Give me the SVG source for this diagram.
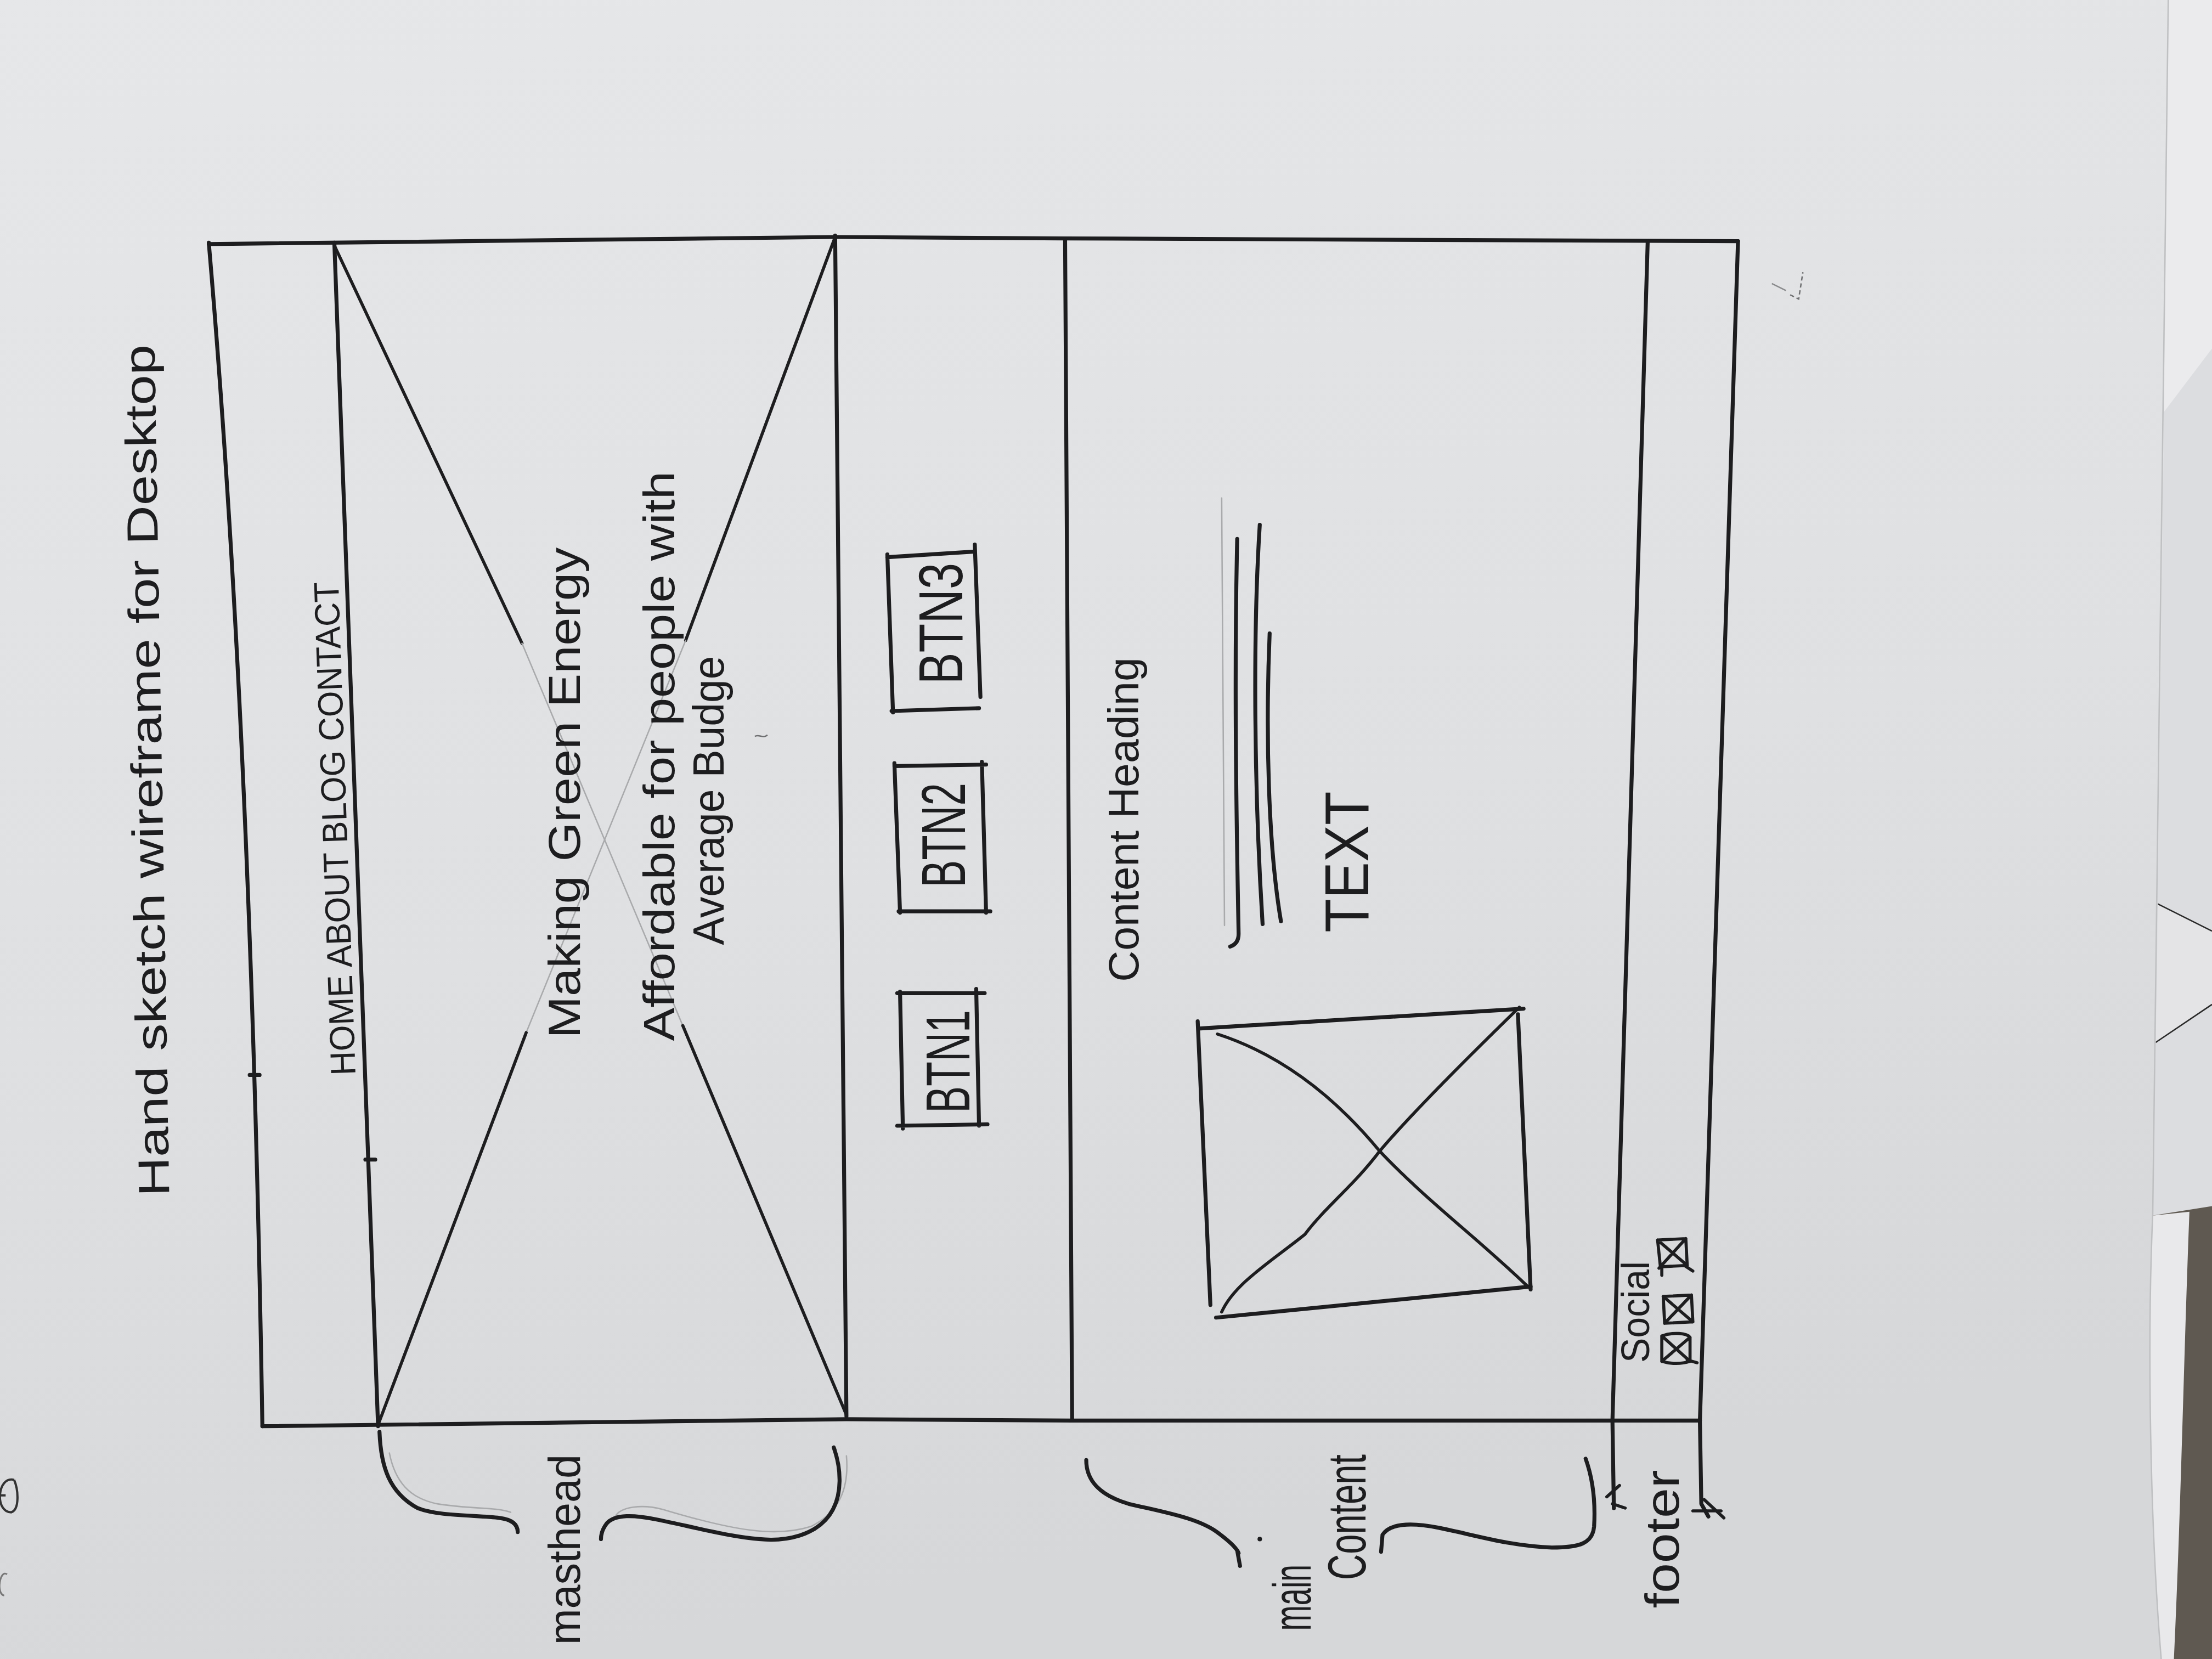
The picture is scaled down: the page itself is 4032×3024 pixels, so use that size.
<svg xmlns="http://www.w3.org/2000/svg" width="4032" height="3024" viewBox="0 0 4032 3024">
  <defs>
    <linearGradient id="paper" x1="0" y1="0" x2="0.25" y2="1">
      <stop offset="0" stop-color="#e6e7e9"/>
      <stop offset="0.6" stop-color="#dfe0e2"/>
      <stop offset="1" stop-color="#d6d7d9"/>
    </linearGradient>
    <style>
      .ink{fill:none;stroke:#1d1d1f;stroke-width:2.8;stroke-linecap:round;stroke-linejoin:round}
      .thin{stroke-width:2.2}
      .pencil{fill:none;stroke:#a9aaac;stroke-width:1;stroke-linecap:round}
      .hand{font-family:"Liberation Sans","DejaVu Sans",Arial,sans-serif;fill:#1d1d1f}
    </style>
  </defs>

  <!-- drawing is laid out on a 1568 x 1176 grid and scaled up -->
  <g transform="scale(2.571429)">

    <!-- desk and loose sheets behind the page -->
    <g id="backdrop">
      <rect x="0" y="0" width="1568" height="1176" fill="#5f5951"/>
      <path d="M1528,0 L1568,0 L1568,855 L1524,862 Z" fill="#dcdde0"/>
      <path d="M1530,0 L1568,0 L1568,247 L1534,292 Z" fill="#ebebed"/>
      <path d="M1528,640 L1568,660 L1568,712 L1528,739 Z" fill="#e4e4e6"/>
      <path d="M1528,640 L1568,660 M1528,739 L1568,712" fill="none" stroke="#2a2a2a" stroke-width="1"/>
      <path d="M1523,862 L1552,859 C1548,960 1546,1070 1541,1176 L1525,1176 Z" fill="#e9e9eb"/>
    </g>

    <!-- the sketch sheet -->
    <path id="sheet" d="M0,0 L1537,0 C1534,300 1531,600 1526,860 C1522,950 1524,1080 1532,1176 L0,1176 Z" fill="url(#paper)"/>
    <path d="M1537,0 C1534,300 1531,600 1526,860 C1522,950 1524,1080 1532,1176" fill="none" stroke="#bfc0c2" stroke-width="1"/>

    <!-- stray marks on the sheet -->
    <g id="marks">
      <path d="M10,1049 C-2,1046 -4,1072 8,1072 C14,1070 13,1056 10,1049" fill="none" stroke="#333" stroke-width="1.6"/>
      <path d="M0,1060 L4,1060" stroke="#333" stroke-width="1.6"/>
      <path d="M5,1116 C0,1112 -3,1130 3,1131" fill="none" stroke="#777" stroke-width="1.2"/>
      <path d="M1269,209 L1275,212 L1278,193" fill="none" stroke="#6f7072" stroke-width="1" stroke-dasharray="3 2"/>
      <path d="M1256,201 L1266,206" stroke="#8a8b8d" stroke-width="1"/>
      <path d="M535,522 C538,520 541,524 544,521" fill="none" stroke="#6f7072" stroke-width="1"/>
    </g>

    <!-- title -->
    <g id="title">
      <text class="hand" font-size="31" transform="translate(120,848) rotate(-91)" textLength="604" lengthAdjust="spacingAndGlyphs">Hand sketch wireframe for Desktop</text>
    </g>

    <!-- page frame -->
    <g id="frame">
      <path class="ink" d="M148,173 L592,168 L755,169 L1232,171"/>
      <path class="ink" d="M148,172 Q178,520 186,1011"/>
      <path class="ink" d="M186,1011 L600,1006 L760,1007 L1205,1007"/>
      <path class="ink" d="M1232,171 L1205,1007"/>
      <path class="ink" d="M177,762 L184,762 M259,822 L266,822"/>
    </g>

    <!-- navigation bar -->
    <g id="nav">
      <path class="ink" d="M237,172 Q250,520 268,1011"/>
      <text class="hand" font-size="25" transform="translate(252,762) rotate(-92)" textLength="350" lengthAdjust="spacingAndGlyphs">HOME ABOUT BLOG CONTACT</text>
    </g>

    <!-- masthead image placeholder -->
    <g id="masthead">
      <path class="ink" d="M592,167 L600,1004"/>
      <path class="ink thin" d="M237,174 L370,456"/>
      <path class="pencil" d="M370,456 L484,727"/>
      <path class="ink thin" d="M484,727 L600,1003"/>
      <path class="ink thin" d="M592,168 L486,454"/>
      <path class="pencil" d="M486,454 L373,732"/>
      <path class="ink thin" d="M373,732 L268,1010"/>
    </g>

    <!-- hero copy -->
    <g id="hero-text">
      <text class="hand" font-size="32" transform="translate(411,736) rotate(-90)" textLength="348" lengthAdjust="spacingAndGlyphs">Making Green Energy</text>
      <text class="hand" font-size="31" transform="translate(478,738) rotate(-90)" textLength="404" lengthAdjust="spacingAndGlyphs">Affordable for people with</text>
      <text class="hand" font-size="31" transform="translate(513,670) rotate(-90)" textLength="205" lengthAdjust="spacingAndGlyphs">Average Budge</text>
    </g>

    <!-- buttons -->
    <g id="btn1">
      <path class="ink" d="M636,704 L698,704 M638,703 L640,800 M636,798 L700,797 M692,701 L694,798"/>
      <text class="hand" font-size="44" transform="translate(687,789) rotate(-90)" textLength="73" lengthAdjust="spacingAndGlyphs">BTN1</text>
    </g>
    <g id="btn2">
      <path class="ink" d="M634,543 L699,542 M634,541 L638,647 M637,646 L702,646 M696,540 L699,647"/>
      <text class="hand" font-size="44" transform="translate(684,629) rotate(-90)" textLength="74" lengthAdjust="spacingAndGlyphs">BTN2</text>
    </g>
    <g id="btn3">
      <path class="ink" d="M629,395 L691,391 M629,393 L633,505 M632,504 L694,502 M691,386 L695,494"/>
      <text class="hand" font-size="44" transform="translate(682,485) rotate(-90)" textLength="86" lengthAdjust="spacingAndGlyphs">BTN3</text>
    </g>

    <!-- main content area -->
    <g id="content">
      <path class="ink" d="M755,169 L760,1007"/>
      <text class="hand" font-size="30" transform="translate(807,696) rotate(-90)" textLength="230" lengthAdjust="spacingAndGlyphs">Content Heading</text>
    </g>

    <!-- body copy placeholder lines -->
    <g id="text-lines">
      <path class="pencil" d="M866,353 L868,656"/>
      <path class="ink" d="M877,382 C875,470 876,560 878,662 Q878,669 872,671"/>
      <path class="ink" d="M893,372 C888,450 889,560 895,655"/>
      <path class="ink" d="M900,449 C897,520 899,600 908,653"/>
      <text class="hand" font-size="44" transform="translate(970,661) rotate(-90)" textLength="100" lengthAdjust="spacingAndGlyphs">TEXT</text>
    </g>

    <!-- content image placeholder -->
    <g id="content-image">
      <path class="ink" d="M851,729 L1080,715"/>
      <path class="ink" d="M1076,719 L1085,914"/>
      <path class="ink" d="M862,934 L1085,912"/>
      <path class="ink" d="M849,724 L858,925"/>
      <path class="ink thin" d="M863,733 C900,745 940,770 978,816 C1010,850 1050,880 1083,912"/>
      <path class="ink thin" d="M1077,714 C1040,750 1000,790 978,816 C960,840 940,855 925,875 C900,895 875,910 866,930"/>
    </g>

    <!-- footer band -->
    <g id="footer">
      <path class="ink" d="M1168,171 L1143,1007 L1144,1069"/>
      <path class="ink thin" d="M1139,1061 L1148,1053 M1143,1066 L1152,1069"/>
      <path class="ink" d="M1205,1007 L1206,1066 L1211,1075"/>
      <path class="ink thin" d="M1200,1071 L1220,1071 M1208,1063 L1222,1076"/>
    </g>

    <!-- social links -->
    <g id="social">
      <text class="hand" font-size="28" transform="translate(1169,966) rotate(-90)" textLength="72" lengthAdjust="spacingAndGlyphs">Social</text>
      <path class="ink thin" d="M1175,879 L1195,878 L1196,897 L1177,898 Z M1175,879 L1196,897 M1195,878 L1176,899 M1178,898 L1178,904 M1194,897 L1200,901"/>
      <path class="ink thin" d="M1179,919 L1199,918 L1200,937 L1180,938 Z M1179,919 L1200,937 M1199,918 L1180,938"/>
      <path class="ink thin" d="M1178,947 C1186,944 1196,945 1198,948 L1198,965 C1192,967 1184,967 1178,965 Z M1178,947 L1198,965 M1198,948 L1178,965 M1196,964 L1203,966"/>
    </g>

    <!-- section braces -->
    <g id="connectors">
      <path class="pencil" d="M276,1030 C280,1050 290,1062 310,1066 C335,1070 350,1068 362,1072"/>
      <path class="pencil" d="M600,1032 C602,1055 595,1072 575,1082 C550,1090 520,1085 470,1070 C455,1066 440,1068 436,1075"/>
      <path class="ink" d="M269,1015 C270,1040 276,1058 296,1069 C310,1075 340,1074 354,1076 C362,1077 367,1080 367,1086"/>
      <path class="ink" d="M591,1026 C596,1040 598,1060 588,1074 C578,1088 558,1093 538,1091 C515,1089 490,1082 465,1077 C450,1074 436,1073 430,1080 C427,1084 426,1088 426,1091"/>
      <path class="ink" d="M770,1035 C770,1050 780,1060 800,1066 C825,1072 850,1076 864,1087 C872,1093 877,1098 878,1101 M877,1099 L879,1110"/>
      <circle cx="893" cy="1091" r="1.6" fill="#1d1d1f"/>
      <path class="ink" d="M1124,1034 C1129,1048 1131,1065 1130,1082 C1129,1094 1120,1097 1100,1097 C1070,1096 1045,1088 1020,1083 C1000,1079 985,1080 980,1088 L979,1100"/>
    </g>

    <!-- section labels -->
    <g id="labels">
      <text class="hand" font-size="32" transform="translate(411,1166) rotate(-90)" textLength="135" lengthAdjust="spacingAndGlyphs">masthead</text>
      <text class="hand" font-size="38" transform="translate(929,1156) rotate(-90)" textLength="47" lengthAdjust="spacingAndGlyphs">main</text>
      <text class="hand" font-size="38" transform="translate(968,1120) rotate(-90)" textLength="89" lengthAdjust="spacingAndGlyphs">Content</text>
      <text class="hand" font-size="34" transform="translate(1190,1140) rotate(-90)" textLength="98" lengthAdjust="spacingAndGlyphs">footer</text>
    </g>
  </g>
</svg>
